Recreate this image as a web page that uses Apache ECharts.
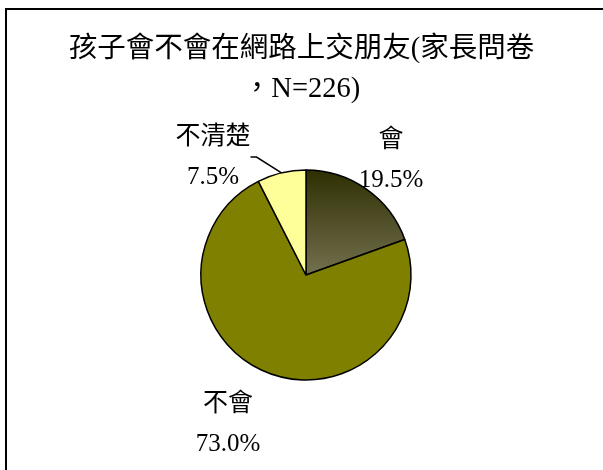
<!DOCTYPE html>
<html>
<head>
<meta charset="utf-8">
<script src="https://cdn.jsdelivr.net/npm/echarts@6/dist/echarts.min.js"></script>
<style>
  html, body { margin: 0; padding: 0; background: #fff; }
  #main { width: 603px; height: 470px; }
</style>
</head>
<body>
<div id="main"></div>
<script>
// 資料
const titleText = '孩子會不會在網路上交朋友(家長問卷\n，N=226)';
const categories = ['會', '不會', '不清楚'];
const percents = [19.5, 73.0, 7.5];

const FONT = '"Liberation Serif", "Noto Sans CJK TC", serif';

// 每個標籤的位置（標籤中心）
const labelPos = [
  { x: 391, y: 160 },
  { x: 228, y: 424 },
  { x: 213, y: 157 }
];

const sliceColors = [
  new echarts.graphic.LinearGradient(0, 0, 0, 1, [
    { offset: 0, color: '#2e2e02' },
    { offset: 1, color: '#74714f' }
  ]),
  '#808000',
  '#ffff99'
];

const chart = echarts.init(document.getElementById('main'));

chart.setOption({
  animation: false,
  backgroundColor: '#fff',
  title: {
    text: titleText,
    left: 'center',
    top: 25,
    textStyle: { fontFamily: FONT, fontWeight: 'normal', fontSize: 28.5, color: '#000', lineHeight: 40 }
  },
  graphic: [{
    type: 'rect',
    shape: { x: 6, y: 9, width: 700, height: 600 },
    style: { fill: 'none', stroke: '#000', lineWidth: 2 },
    silent: true
  }],
  series: [{
    type: 'pie',
    center: [306, 275],
    radius: 105,
    startAngle: 90,
    clockwise: true,
    itemStyle: { borderColor: '#000', borderWidth: 1.5 },
    label: {
      show: true,
      position: 'outside',
      fontFamily: FONT,
      fontSize: 25,
      color: '#000',
      lineHeight: 40,
      align: 'center',
      formatter: function (p) { return p.name + '\n' + percents[p.dataIndex].toFixed(1) + '%'; }
    },
    labelLine: { show: false },
    labelLayout: function (p) {
      const pos = labelPos[p.dataIndex];
      return { x: pos.x, y: pos.y, align: 'center', verticalAlign: 'middle' };
    },
    data: categories.map(function (c, i) {
      const item = { name: c, value: percents[i], itemStyle: { color: sliceColors[i] } };
      if (i === 2) item.labelLine = { show: true, length: 6, length2: 6, lineStyle: { color: '#000', width: 1.5 } };
      return item;
    })
  }]
});
</script>
</body>
</html>
